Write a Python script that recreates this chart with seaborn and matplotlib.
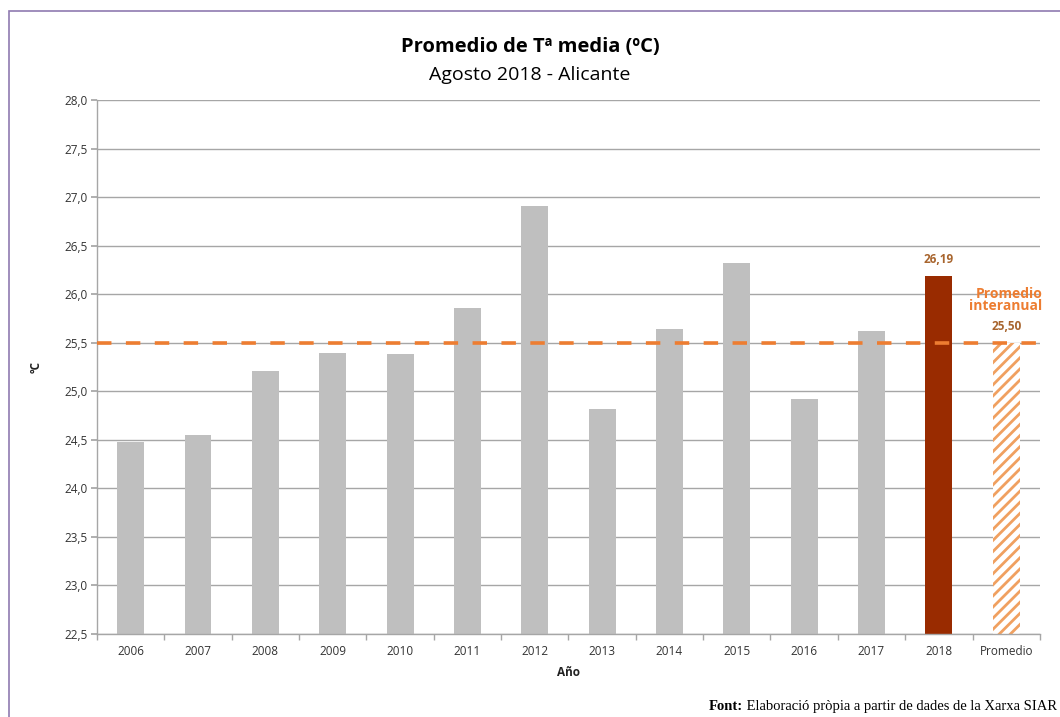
import matplotlib
matplotlib.use("Agg")
import matplotlib.pyplot as plt
from matplotlib.ticker import FuncFormatter, FixedLocator
from matplotlib.patches import Rectangle
import numpy as np
import pandas as pd
import seaborn as sns

# Datos (agosto, Alicante)
categorias = ["2006", "2007", "2008", "2009", "2010", "2011", "2012",
              "2013", "2014", "2015", "2016", "2017", "2018", "Promedio"]
temp_media = [24.48, 24.55, 25.21, 25.39, 25.38, 25.86, 26.91,
              24.82, 25.64, 26.32, 24.92, 25.62, 26.19, 25.50]
promedio_interanual = 25.50
y_ticks = [22.5, 23.0, 23.5, 24.0, 24.5, 25.0, 25.5, 26.0, 26.5, 27.0, 27.5, 28.0]

gris = "#bfbfbf"
rojo = "#992b00"
naranja = "#ed7d31"
marron = "#a8652e"
colores = [gris] * 12 + [rojo, "white"]

sns.set_theme(style="white")
plt.rcParams["font.family"] = ["Open Sans", "DejaVu Sans"]
plt.rcParams["text.color"] = "black"
plt.rcParams["hatch.linewidth"] = 2.0
plt.rcParams["hatch.color"] = "#f0a060"

df = pd.DataFrame({"anyo": categorias, "temp": temp_media})

fig = plt.figure(figsize=(10.6, 7.17), dpi=100)
ax = fig.add_axes([0.0915, 0.116, 0.8895, 0.7445])

sns.barplot(data=df, x="anyo", y="temp", hue="anyo", palette=colores,
            width=0.4, legend=False, ax=ax, saturation=1, linewidth=0)

# barra del promedio con rayado
last = ax.patches[-1]
last.set_facecolor("white")
last.set_hatch("///")
last.set_edgecolor("#f0a060")
last.set_linewidth(0)

ax.set_ylim(22.5, 28.0)
ax.set_xlim(-0.5, len(categorias) - 0.5)
ax.yaxis.set_major_locator(FixedLocator(y_ticks))
ax.yaxis.set_major_formatter(FuncFormatter(lambda v, p: f"{v:.1f}".replace(".", ",")))
ax.grid(axis="y", color="#a6a6a6", linewidth=1)
ax.set_axisbelow(True)

for s in ["top", "right"]:
    ax.spines[s].set_visible(False)
for s in ["left", "bottom"]:
    ax.spines[s].set_color("#a6a6a6")
    ax.spines[s].set_linewidth(1)

ax.tick_params(axis="y", which="major", left=True, length=4, color="#a6a6a6",
               labelsize=8.5, pad=3, labelcolor="#333333")
ax.set_xticks(np.arange(-0.5, len(categorias), 1), minor=True)
ax.tick_params(axis="x", which="major", length=0, labelsize=8.5, pad=8,
               labelcolor="#333333")
ax.tick_params(axis="x", which="minor", bottom=True, length=4, color="#a6a6a6")

ax.set_xlabel("Año", fontsize=8.5, fontweight="bold", labelpad=6, color="#222222")
ax.set_ylabel("ºC", fontsize=8.5, fontweight="bold", color="#222222")
ax.yaxis.set_label_coords(-0.058, 0.5)

# linea del promedio interanual
ax.axhline(promedio_interanual, color=naranja, linewidth=2.6,
           dashes=(4, 4), zorder=5)

ax.text(12, temp_media[12] + 0.1, f"{temp_media[12]:.2f}".replace(".", ","),
        ha="center", va="bottom", fontsize=8.5, fontweight="bold", color=marron)
ax.text(13, temp_media[13] + 0.1, f"{temp_media[13]:.2f}".replace(".", ","),
        ha="center", va="bottom", fontsize=8.5, fontweight="bold", color=marron)
ax.text(13.54, 25.94, "Promedio\ninteranual", ha="right", va="center",
        fontsize=10, fontweight="bold", color=naranja, linespacing=0.85)

# titulos
fig.text(0.5, 0.934, "Promedio de Tª media (ºC)", ha="center", va="center",
         fontsize=14.5, fontweight="bold")
fig.text(0.5, 0.896, "Agosto 2018 - Alicante", ha="center", va="center",
         fontsize=14)

# fuente
resto = fig.text(0.9975, 0.006, " Elaboració pròpia a partir de dades de la Xarxa SIAR",
                 ha="right", va="bottom", fontsize=10.5, family="Liberation Serif")
fig.canvas.draw()
bb = resto.get_window_extent().transformed(fig.transFigure.inverted())
fig.text(bb.x0, 0.006, "Font:", ha="right", va="bottom", fontsize=10.5,
         fontweight="bold", family="Liberation Serif")

# marco
fig.patches.append(Rectangle((9 / 1060, -0.02), 1.1, 1 - 11 / 717 + 0.02,
                             transform=fig.transFigure, fill=False,
                             edgecolor="#8f7ab0", linewidth=1.2))

fig.savefig("out.png", dpi=100)
